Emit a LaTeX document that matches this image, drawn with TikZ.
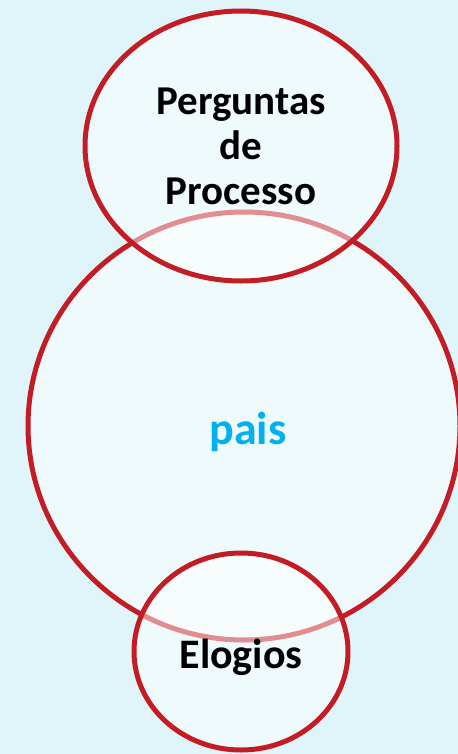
\documentclass[tikz,border=0pt]{standalone}
\usepackage{fontspec}
\setmainfont{Carlito}
\definecolor{bgc}{RGB}{223,245,250}
\definecolor{ringred}{RGB}{196,28,36}
\definecolor{paisblue}{RGB}{0,176,240}
\tikzset{
  ring/.style={draw=ringred, line width=5bp, fill=white, fill opacity=0.5, draw opacity=1},
  lbl/.style={font=\bfseries\fontsize{41bp}{45bp}\selectfont, align=center, text=black, inner sep=0pt}
}
\begin{document}
\begin{tikzpicture}[x=1bp,y=-1bp]
\fill[bgc] (0,0) rectangle (458,754);
\useasboundingbox (0,0) rectangle (458,754);
\path[ring] (244,426) ellipse [x radius=216, y radius=214];
\path[ring] (241,146) ellipse [x radius=156, y radius=135];
\path[ring] (241,651.5) ellipse [x radius=107, y radius=98.5];
\node[lbl] (top) at (241,146) {Perguntas\\de\\Processo};
\node[lbl, text=paisblue, font=\bfseries\fontsize{46bp}{50bp}\selectfont] (pais) at (248,432) {pais};
\node[lbl, font=\bfseries\fontsize{42bp}{46bp}\selectfont] (elog) at (241,657) {Elogios};
\end{tikzpicture}
\end{document}
